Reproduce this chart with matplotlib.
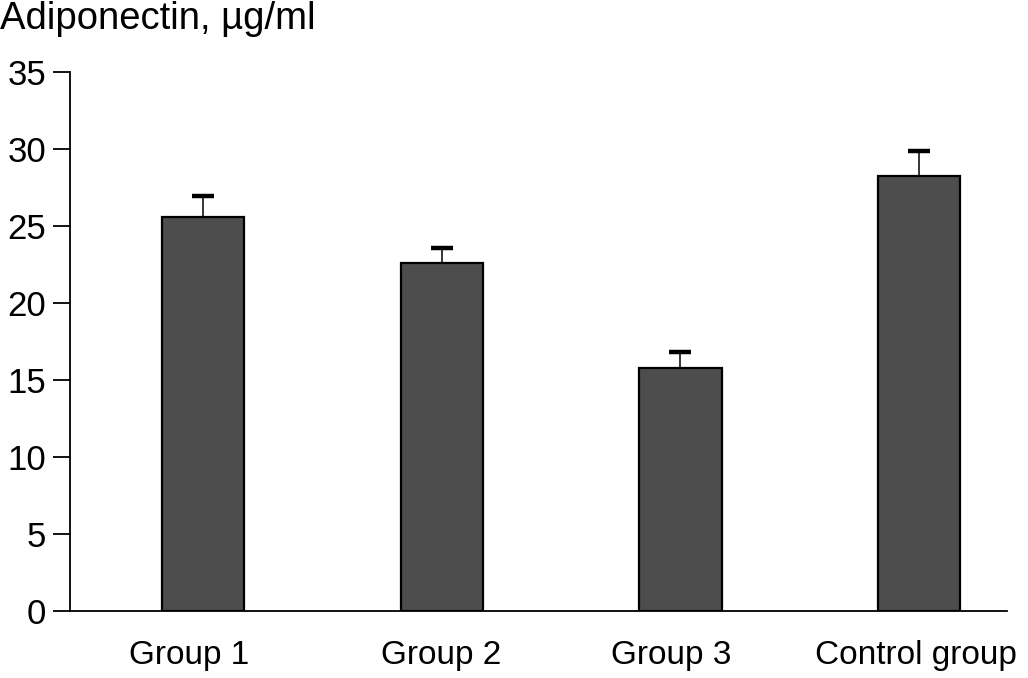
import matplotlib.pyplot as plt
import numpy as np

plt.rcParams['font.family'] = ['Liberation Sans', 'DejaVu Sans']

groups = ['Group 1', 'Group 2', 'Group 3', 'Control group']
means = [25.6, 22.6, 15.8, 28.25]
errors = [1.35, 1.0, 1.05, 1.65]
yticks = [0, 5, 10, 15, 20, 25, 30, 35]

fig = plt.figure(figsize=(10.28, 6.78), dpi=100)
ax = fig.add_axes([0.0681, 0.0988, 0.9115, 0.795])

x = np.arange(len(groups))
tops = np.array(means) + np.array(errors)
ax.bar(x, means, width=0.345, color='#4d4d4d', edgecolor='black', linewidth=1.6, zorder=3)
# upper error only: stem plus thick cap
ax.errorbar(x, means, yerr=[np.zeros(len(errors)), errors], fmt='none', ecolor='black',
            elinewidth=1.1, capsize=0, zorder=2)
ax.plot(x, tops, ls='none', marker='_', markersize=16, mew=3.2, color='black', zorder=2)

ax.set_xlim(-0.557, 3.368)
ax.set_ylim(0, 35)
ax.set_yticks(yticks)
# labels in the original sit slightly left of the bar centres
label_shift = np.array([-0.06, -0.004, -0.038, -0.015])
ax.set_xticks(x + label_shift)
ax.set_xticklabels(groups)
ax.spines['top'].set_visible(False)
ax.spines['right'].set_visible(False)
for s in ['left', 'bottom']:
    ax.spines[s].set_linewidth(1.3)
ax.tick_params(axis='y', length=12, width=1.3, labelsize=25, pad=5)
ax.tick_params(axis='x', length=0, labelsize=24, pad=21)

fig.text(0.0, 0.972, 'Adiponectin, µg/ml', fontsize=27.5, ha='left', va='center')

fig.savefig('out.png', dpi=100)
